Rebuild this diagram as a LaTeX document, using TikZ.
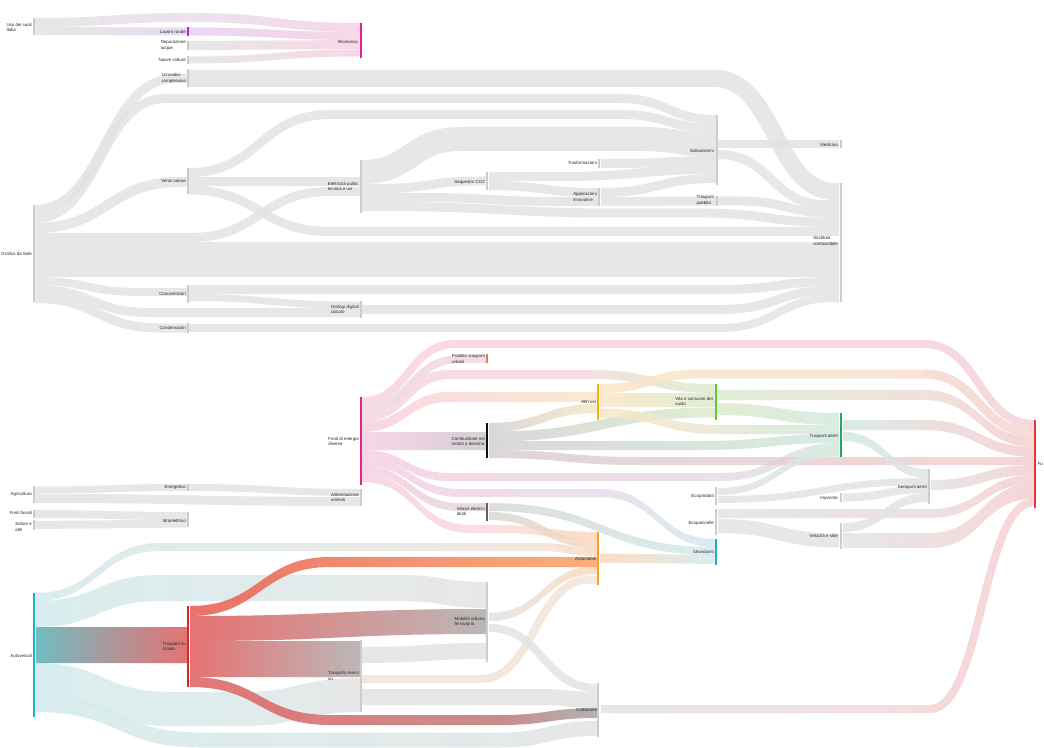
\documentclass[tikz,border=0pt]{standalone}
\usepackage{fontspec}
\setmainfont{Liberation Sans}
\definecolor{gbar}{HTML}{CCCCCC}
\definecolor{pinkB}{HTML}{E8228A}
\definecolor{purpleB}{HTML}{A030C8}
\definecolor{brownB}{HTML}{C08868}
\definecolor{yellowB}{HTML}{F5B400}
\definecolor{greenB}{HTML}{62C82A}
\definecolor{blackB}{HTML}{111111}
\definecolor{tgB}{HTML}{22A868}
\definecolor{redB}{HTML}{E8343A}
\definecolor{tealB}{HTML}{1AB4C8}
\definecolor{idroB}{HTML}{20B0C4}
\definecolor{orangeB}{HTML}{FF9A30}
\definecolor{veicB}{HTML}{606060}
\definecolor{red2B}{HTML}{D42828}
\tikzset{
  lnk/.style={line cap=butt, draw opacity=0.85},
  bw/.style={line width=#1*0.75pt},
  lab/.style={font=\fontsize{3.3}{4}\selectfont, inner sep=0pt, align=left, text=black!85}
}
% stroke link: width(px), hex colour, x1, y1, curve start, curve end, y2, x2
\newcommand\lk[8]{\pgfmathsetmacro\lkm{(#5+#6)/2}\definecolor{lkc}{HTML}{#2}%
  \draw[lnk,bw=#1,draw=lkc] (#3,#4) -- (#5,#4) .. controls (\lkm,#4) and (\lkm,#7) .. (#6,#7) -- (#8,#7);}
% shaded band: x1, y1, curve start, curve end, y2, x2, width, hex colour1, hex colour2
\newcommand\glk[9]{\pgfmathsetmacro\glkm{(#3+#4)/2}%
  \definecolor{glkA}{HTML}{#8}\definecolor{glkB}{HTML}{#9}%
  \pgfmathsetmacro\glka{#2-#7/2}\pgfmathsetmacro\glkb{#2+#7/2}%
  \pgfmathsetmacro\glkc{#5-#7/2}\pgfmathsetmacro\glkd{#5+#7/2}%
  \shade[opacity=0.85,left color=glkA,right color=glkB] (#1,\glka) -- (#3,\glka) .. controls (\glkm,\glka) and (\glkm,\glkc) .. (#4,\glkc) -- (#6,\glkc) -- (#6,\glkd) -- (#4,\glkd) .. controls (\glkm,\glkd) and (\glkm,\glkb) .. (#3,\glkb) -- (#1,\glkb) -- cycle;}
% node bar: name, x, y1, y2, colour, width
\newcommand\nbar[6]{\pgfmathsetmacro\nbh{(#4-#3)*0.75}\pgfmathsetmacro\nby{(#3+#4)/2}%
  \node[inner sep=0pt,outer sep=0pt,minimum width=#6,minimum height=\nbh pt,fill=#5] (#1) at (#2,\nby) {};}
\newcommand\lbl[4]{\node[lab,anchor=east] (#1) at (#2,#3) {#4};}
\begin{document}
\begin{tikzpicture}[x=0.75pt,y=-0.75pt]
\useasboundingbox (0,0) rectangle (1044,748);
\fill[white] (0,0) rectangle (1044,748);

% ===== top group =====
\glk{35}{22.5}{35}{190}{17.5}{190}{9}{E3E3E3}{EADDEB}
\glk{190}{17.5}{190}{361}{27.5}{361}{9}{EADDEB}{F6D2E4}
\glk{35}{31}{35}{187}{31.5}{187}{8}{E3E3E3}{E6D4EF}
\glk{189}{31.5}{189}{361}{36}{361}{8}{E6D0F0}{F6D2E4}
\glk{189}{45.5}{189}{361}{44.5}{361}{9}{E3E3E3}{F6D2E4}
\glk{189}{60}{189}{361}{53}{361}{7}{E3E3E3}{F6D2E4}

% ===== grafico group =====
\lk{9}{E3E3E3}{35}{209.5}{35}{175}{78.5}{187}
\lk{9}{E3E3E3}{35}{218.5}{35}{165}{98.5}{620}
\lk{9}{E3E3E3}{620}{98.5}{620}{716}{119.5}{716}
\lk{10}{E3E3E3}{35}{228}{35}{180}{182}{187}
\lk{9}{E3E3E3}{35}{237.5}{190}{330}{191.5}{360}
\lk{35}{E3E3E3}{35}{259.5}{35}{35}{259.5}{839}
\lk{8}{E3E3E3}{35}{281}{35}{140}{292}{187}
\lk{9}{E3E3E3}{35}{289.5}{35}{150}{312.5}{360}
\lk{9}{E3E3E3}{35}{298.5}{35}{160}{328}{187}
\lk{17}{E3E3E3}{189}{78.5}{715}{835}{191.5}{839}
\lk{9}{E3E3E3}{189}{172.5}{189}{330}{114.5}{620}
\lk{9}{E3E3E3}{620}{114.5}{620}{716}{128.5}{716}
\lk{9}{E3E3E3}{189}{181.5}{189}{189}{181.5}{360}
\lk{9}{E3E3E3}{189}{190}{189}{330}{231.5}{839}
\lk{24}{E3E3E3}{362}{172}{362}{460}{139}{640}
\lk{24}{E3E3E3}{640}{139}{640}{716}{145}{716}
\lk{9}{E3E3E3}{362}{188.5}{380}{480}{181}{486}
\lk{9}{E3E3E3}{362}{197.5}{420}{560}{201.5}{598}
\lk{9}{E3E3E3}{362}{206.5}{380}{620}{213}{700}
\lk{9}{E3E3E3}{700}{213}{700}{835}{222.5}{839}
\lk{9}{E3E3E3}{601}{163.5}{620}{700}{161}{716}
\lk{9}{E3E3E3}{489}{176.5}{560}{716}{169.5}{716}
\lk{9}{E3E3E3}{489}{185.5}{489}{598}{192.5}{598}
\lk{9}{E3E3E3}{601}{192.5}{601}{716}{178.5}{716}
\lk{9}{E3E3E3}{601}{201.5}{601}{716}{201}{716}
\lk{9}{E3E3E3}{718}{201}{740}{835}{213.5}{839}
\lk{8}{E3E3E3}{718}{144}{718}{718}{144}{839}
\lk{9}{E3E3E3}{718}{154.5}{718}{825}{204.5}{839}
\lk{9}{E3E3E3}{189}{289.5}{720}{835}{281.5}{839}
\lk{7}{E3E3E3}{189}{297.5}{189}{350}{305}{360}
\lk{9}{E3E3E3}{362}{309.5}{720}{835}{290}{839}
\lk{8}{E3E3E3}{189}{328}{720}{835}{298}{839}

% ===== small left group =====
\lk{7}{E3E3E3}{35}{490}{35}{187}{487.5}{187}
\lk{9}{E3E3E3}{35}{498.5}{35}{360}{501.5}{360}
\lk{7}{E3E3E3}{189}{487.5}{189}{360}{492.5}{360}
\lk{8}{E3E3E3}{35}{514}{35}{187}{516}{187}
\lk{8}{E3E3E3}{35}{525}{35}{187}{523.5}{187}

% ===== bottom-left (teal / red) =====
\glk{36}{597}{36}{160}{547}{540}{8}{D3EAEC}{EEE4DA}
\glk{540}{547}{540}{597}{552}{597}{8}{EEE4DA}{FBD8BC}
\glk{36}{614}{36}{160}{588}{400}{26}{D3EAEC}{E2E6E6}
\glk{400}{588}{400}{487}{595}{487}{26}{E2E6E6}{E3E3E3}
\glk{36}{680}{36}{170}{709}{240}{34}{D3EAEC}{DCEAEA}
\glk{240}{709}{240}{360}{695}{360}{34}{DCEAEA}{E3E3E3}
\glk{36}{704.5}{36}{200}{740}{500}{15}{D3EAEC}{E0E6E6}
\glk{500}{740}{500}{597}{728.5}{597}{15}{E0E6E6}{E3E3E3}
\glk{362}{655}{362}{487}{651}{487}{16}{E3E3E3}{E3E3E3}
\glk{362}{697}{540}{597}{700}{597}{16}{E3E3E3}{E3E3E3}
\lk{8}{F2E4D8}{362}{679}{480}{590}{579.5}{597}
\glk{489}{617}{489}{597}{570}{597}{8}{E3E3E3}{FBD8BC}
\lk{8}{E3E3E3}{489}{628}{489}{597}{688}{597}
\glk{36}{645}{36}{36}{645}{188}{36}{5AB0B8}{E25A5A}
\glk{190}{628.5}{190}{487}{621.5}{487}{25}{E25A5A}{B0ACAC}
\glk{190}{659}{190}{190}{659}{360}{36}{E25A5A}{B0ACAC}
\glk{190}{682}{190}{330}{720}{500}{10}{E06060}{C07878}
\glk{500}{720}{500}{597}{713}{597}{10}{C07878}{A8A4A4}
\glk{190}{611}{190}{330}{562}{597}{10}{E85A50}{FBA262}
\glk{601}{709}{601}{601}{709}{930}{8}{E3E3E3}{F2D8DA}
\lk{8}{F4D2D4}{930}{709}{930}{1034}{502}{1034}

% ===== pink source group =====
\lk{8}{F8D2E4}{362}{401}{362}{455}{344}{924}
\lk{8}{F5D3DA}{924}{344}{924}{1034}{424}{1034}
\lk{8}{F0D8E0}{362}{409}{362}{460}{359}{486}
\lk{9}{F6D6E0}{362}{417.5}{362}{450}{374.5}{590}
\glk{590}{374.5}{590}{715}{388.5}{715}{9}{F0DEDC}{DCEBCD}
\glk{362}{427}{362}{450}{397}{597}{10}{F7D0E2}{FAE6C6}
\glk{362}{441}{362}{362}{441}{486}{18}{F7D0E2}{CFC8CE}
\glk{362}{454}{362}{450}{477}{720}{8}{F7D0E2}{E6DCE8}
\glk{720}{477}{720}{840}{447}{839}{8}{E6DCE8}{D3E9DE}
\glk{362}{462}{362}{460}{493}{600}{8}{F7D0E2}{E6DEEC}
\glk{600}{493}{600}{715}{543}{715}{8}{E6DEEC}{D3EAEC}
\glk{362}{470}{362}{460}{507}{486}{8}{F7D0E2}{E0D8DC}
\glk{362}{478}{362}{470}{529}{500}{8}{F7D0E2}{FADCDC}
\glk{500}{529}{500}{597}{536}{597}{8}{FADCDC}{FBD8BC}

% black node outputs
\glk{489}{427.5}{489}{597}{408.5}{597}{9}{D2D2D2}{FAE6C6}
\glk{489}{436.5}{489}{715}{412.5}{715}{10}{D2D2D2}{DCEBCD}
\glk{489}{445.5}{700}{839}{438.5}{839}{9}{D2D2D2}{D3E9DE}
\glk{489}{454}{489}{640}{461}{1034}{8}{D8D0D0}{F5CFD2}

% yellow node outputs
\glk{600}{388.5}{600}{700}{374}{924}{9}{FAE6C6}{F8E0D0}
\lk{9}{F6D8D2}{924}{374}{924}{1034}{432.5}{1034}
\glk{600}{400}{600}{600}{400}{715}{14}{FAE6C6}{DCEBCD}
\glk{600}{413}{600}{720}{429.5}{839}{9}{FAE6C6}{D3E9DE}

% green node outputs
\glk{717}{395}{717}{717}{395}{924}{10}{DCEBCD}{EEDDD6}
\glk{924}{395}{924}{1034}{442}{1034}{10}{EEDDD6}{F5CFD2}
\glk{717}{409}{717}{839}{419}{839}{12}{DCEBCD}{D3E9DE}

% teal-green node outputs
\glk{843}{425}{843}{843}{425}{924}{10}{D3E9DE}{E8DCDA}
\glk{924}{425}{924}{1034}{452}{1034}{10}{E8DCDA}{F5CFD2}
\glk{843}{436.5}{843}{928}{473.5}{928}{9}{D3E9DE}{E3E3E3}

% grey nodes on the right
\glk{931}{485}{931}{1034}{470}{1034}{10}{E3E3E3}{F5CFD2}
\glk{718}{491.5}{718}{839}{453}{839}{7}{E3E3E3}{D3E9DE}
\glk{718}{499.5}{718}{928}{481.5}{928}{7}{E3E3E3}{E3E3E3}
\glk{843}{497.5}{843}{928}{489}{928}{8}{E3E3E3}{E3E3E3}
\glk{718}{513.5}{718}{718}{513.5}{930}{9}{E3E3E3}{ECDCDC}
\glk{930}{513.5}{930}{1034}{479.5}{1034}{9}{ECDCDC}{F5CFD2}
\glk{718}{526}{718}{839}{540.5}{839}{14}{E3E3E3}{E3E3E3}
\glk{843}{527.5}{843}{928}{497.5}{928}{9}{E3E3E3}{E3E3E3}
\glk{843}{540.5}{843}{843}{540.5}{930}{15}{E3E3E3}{ECDCDC}
\glk{930}{540.5}{930}{1034}{491}{1034}{15}{ECDCDC}{F5CFD2}

% veicoli, automobili
\glk{489}{507}{489}{715}{551}{715}{8}{D8D8D8}{D3EAEC}
\glk{489}{516}{489}{597}{544}{597}{8}{D8D8D8}{FBD8BC}
\glk{600}{558}{600}{715}{559.5}{715}{9}{FBD8BC}{D3EAEC}

% ===== node bars =====
\nbar{u}{34}{18}{35}{gbar}{1.2pt}
\nbar{l}{188}{27}{36}{purpleB}{1.5pt}
\nbar{d}{188}{41}{50}{gbar}{1.2pt}
\nbar{n}{188}{56}{64}{gbar}{1.2pt}
\nbar{bi}{361}{23}{58}{pinkB}{1.5pt}

\nbar{a}{34}{205}{302}{gbar}{1.2pt}
\nbar{b1}{188}{69}{87}{gbar}{1.2pt}
\nbar{ve}{188}{168}{194}{gbar}{1.2pt}
\nbar{con}{188}{285}{303}{gbar}{1.2pt}
\nbar{cl}{188}{323}{333}{gbar}{1.2pt}
\nbar{mid}{361}{160}{213}{gbar}{1.2pt}
\nbar{ora}{361}{301}{318}{gbar}{1.2pt}
\nbar{seg}{487}{172}{190}{gbar}{1.2pt}
\nbar{tra}{599}{159}{168}{gbar}{1.2pt}
\nbar{app}{599}{188}{206}{gbar}{1.2pt}
\nbar{sub}{717}{115}{185}{gbar}{1.2pt}
\nbar{sub2}{717}{196}{206}{gbar}{1.2pt}
\nbar{med}{841}{140}{148}{gbar}{1.2pt}
\nbar{r}{841}{183}{302}{gbar}{1.2pt}

\nbar{ag}{34}{486}{503}{gbar}{1.2pt}
\nbar{en}{188}{484}{491}{gbar}{1.2pt}
\nbar{al}{361}{489}{506}{gbar}{1.2pt}
\nbar{ef}{34}{510}{518}{gbar}{1.2pt}
\nbar{es}{34}{520}{530}{gbar}{1.2pt}
\nbar{id}{188}{512}{527}{gbar}{1.2pt}

\nbar{p}{361}{397}{485}{pinkB}{1.5pt}
\nbar{pubb}{487}{354}{363}{brownB}{1.5pt}
\nbar{ye}{598}{384}{420}{yellowB}{1.5pt}
\nbar{gr}{716}{384}{420}{greenB}{1.5pt}
\nbar{bk}{487}{423}{458}{blackB}{1.5pt}
\nbar{tg}{841}{413}{457}{tgB}{1.5pt}
\nbar{r2}{1035}{420}{508}{redB}{1.5pt}
\nbar{aero}{929}{469}{504}{gbar}{1.2pt}
\nbar{impr}{841}{493}{502}{gbar}{1.2pt}
\nbar{eco}{716}{487}{505}{gbar}{1.2pt}
\nbar{eco2}{716}{509}{535}{gbar}{1.2pt}
\nbar{vel}{841}{523}{549}{gbar}{1.2pt}
\nbar{idro}{716}{539}{565}{idroB}{1.5pt}
\nbar{auto}{598}{532}{585}{orangeB}{1.5pt}
\nbar{veic}{487}{503}{521}{veicB}{1.5pt}

\nbar{teal}{34}{593}{717}{tealB}{1.5pt}
\nbar{rd}{188}{606}{687}{red2B}{1.5pt}
\nbar{mob}{487}{582}{662}{gbar}{1.2pt}
\nbar{trasp}{361}{640}{712}{gbar}{1.2pt}
\nbar{cont}{598}{683}{737}{gbar}{1.2pt}

% ===== labels =====
\lbl{ul}{32}{27.5}{Uso dei suoli\\Italia}
\lbl{ll}{186}{32}{Lavoro rurale}
\lbl{dl}{186}{45.5}{Depurazione\\acque}
\lbl{nl}{186}{60}{Nuove colture}
\lbl{bil}{358}{42}{Biomassa}

\lbl{al1}{32}{254}{Grafico da Sole}
\lbl{b1l}{186}{78.5}{Un'analisi\\complessiva}
\lbl{vel1}{186}{181}{Vento solare}
\lbl{midl}{358}{186.5}{Elettricità pulita\\tecnica e usi}
\lbl{conl}{186}{294}{Concentratori}
\lbl{oral}{359}{309.5}{Orologi digitali\\calcolo}
\lbl{cll}{186}{328}{Condensatori}
\lbl{segl}{485}{182}{Sequestro CO2}
\lbl{tral}{597}{163}{Trasformazioni}
\lbl{appl}{597}{197}{Applicazioni\\innovative}
\lbl{subl}{714}{151}{Sottosistemi}
\lbl{sub2l}{714}{200.5}{Trasporti\\pubblici}
\lbl{medl}{838}{145}{Medicina}
\lbl{rl}{838}{241}{Sostituto\\combustibile}

\lbl{agl}{32}{494}{Agricoltura}
\lbl{enl}{186}{487}{Energetico}
\lbl{all}{359}{497.5}{Alimentazione\\animali}
\lbl{efl}{32}{513}{Fonti fossili}
\lbl{esl}{32}{527}{Solare e\\altri}
\lbl{idl}{186}{521}{Idroelettrico}

\lbl{pl}{359}{441.5}{Fonti di energia\\diverse}
\lbl{pubbl}{485}{359}{Pubblici trasporti\\urbani}
\lbl{yel}{596}{402}{Altri usi}
\lbl{grl}{713}{401.5}{Vita e consumo del\\suolo}
\lbl{bkl}{485}{441.5}{Combustione nei\\motori a benzina}
\lbl{tgl}{838}{436}{Trasporti aerei}
\node[lab,anchor=west] (r2l) at (1037.5,464) {Fu};
\lbl{aerol}{927}{487}{Aeroporti aerei}
\lbl{imprl}{838}{498}{Impronte}
\lbl{ecol}{714}{496}{Ecoprodotti}
\lbl{eco2l}{714}{523}{Ecoparticelle}
\lbl{vell}{838}{536}{Velocità e stile}
\lbl{idrol}{714}{552}{Idrovolanti}
\lbl{autol}{596}{559}{Automobili}
\lbl{veicl}{485}{511.5}{Veicoli elettrici\\ibridi}

\lbl{teall}{32}{656}{Autoveicoli}
\lbl{rdl}{186}{646.5}{Trasporti su\\strada}
\lbl{mobl}{485}{621.5}{Mobilità urbana\\ferroviaria}
\lbl{traspl}{359}{676}{Trasporto merci\\su}
\lbl{contl}{597}{710}{Carburanti}
\end{tikzpicture}
\end{document}
